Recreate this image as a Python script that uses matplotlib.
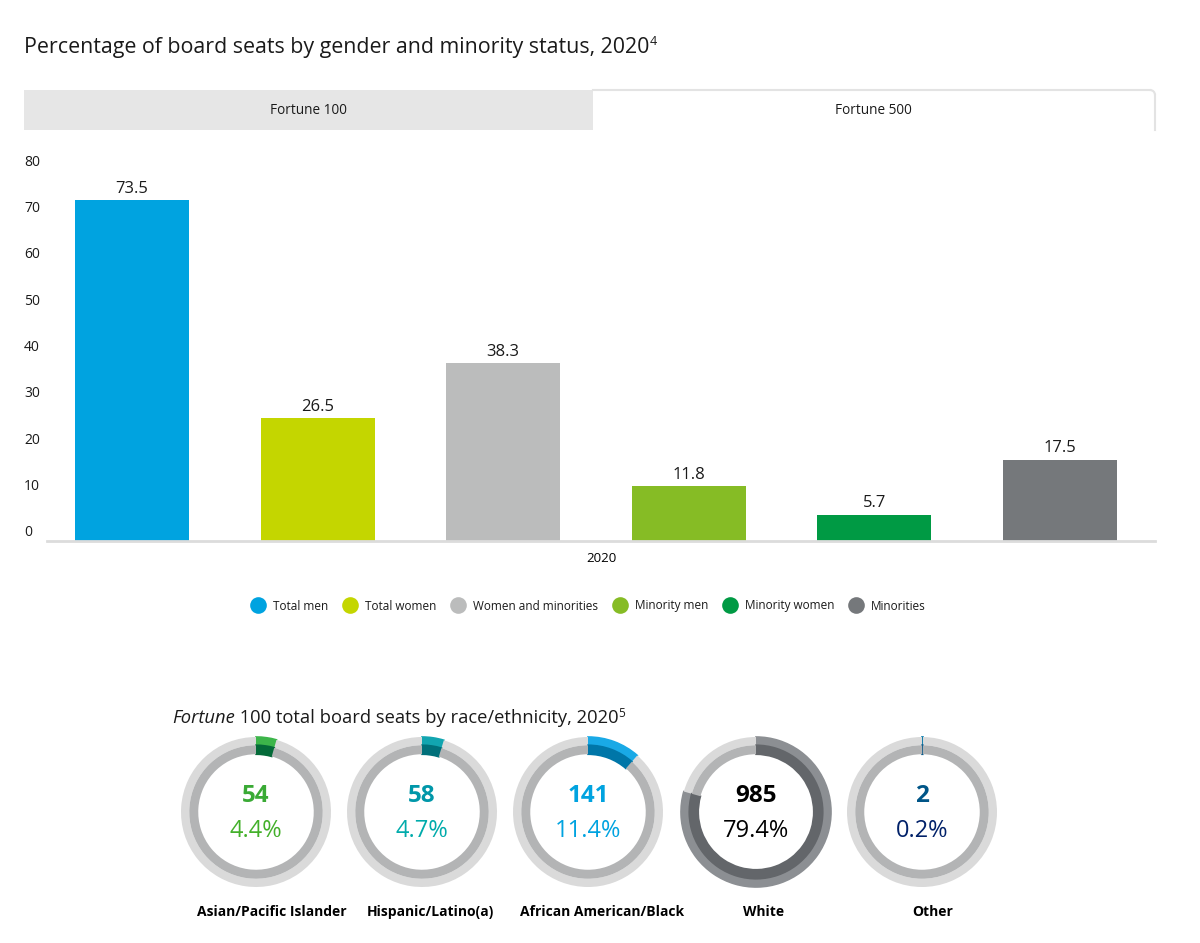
import matplotlib
matplotlib.use('Agg')
import matplotlib.pyplot as plt
from matplotlib.patches import Rectangle, Arc
from matplotlib.lines import Line2D
from matplotlib.transforms import ScaledTranslation

plt.rcParams['font.family'] = ['Open Sans', 'DejaVu Sans']
plt.rcParams['text.color'] = '#1a1a1a'

# bar chart data
categories = ['Total men', 'Total women', 'Women and minorities', 'Minority men', 'Minority women', 'Minorities']
values = [73.5, 26.5, 38.3, 11.8, 5.7, 17.5]
bar_colors = ['#00a3e0', '#c4d600', '#bbbcbc', '#86bc25', '#009a44', '#75787b']
yticks = [0, 10, 20, 30, 40, 50, 60, 70, 80]

# donut data
groups = ['Asian/Pacific Islander', 'Hispanic/Latino(a)', 'African American/Black', 'White', 'Other']
seats = [54, 58, 141, 985, 2]
shares = [4.4, 4.7, 11.4, 79.4, 0.2]
ring_outer = ['#3cb54a', '#12a5b0', '#19a9e6', '#8c8f93', '#0076a8']
ring_inner = ['#046a38', '#00707a', '#0076a8', '#63666a', '#005587']
num_colors = ['#3aaa35', '#0097a9', '#00a3e0', '#000000', '#005587']
pct_colors = ['#43b02a', '#00abab', '#00a3e0', '#000000', '#012169']

fig = plt.figure(figsize=(12, 9.43), dpi=100)

# background layer in pixel coordinates
bg = fig.add_axes([0, 0, 1, 1], zorder=-1)
bg.set_xlim(0, 1200)
bg.set_ylim(943, 0)
bg.axis('off')

t0 = bg.text(24, 47, 'Percentage of board seats by gender and minority status, 2020', fontsize=15.4,
             va='center', ha='left', color='#1a1a1a')
bg.annotate('4', xy=(1, 0.75), xycoords=t0, fontsize=9, va='center', ha='left')

# tabs
bg.add_patch(Rectangle((24, 90), 569, 40, facecolor='#e6e6e6', edgecolor='none'))
bg.text(308, 110, 'Fortune 100', fontsize=9.8, ha='center', va='center')
bg.add_line(Line2D([593, 1150], [90, 90], color='#e3e3e3', lw=1.5))
bg.add_line(Line2D([1155, 1155], [95, 130], color='#e3e3e3', lw=1.5))
bg.add_patch(Arc((1150, 95), 10, 10, theta1=270, theta2=360, color='#e3e3e3', lw=1.5))
bg.text(873, 110, 'Fortune 500', fontsize=9.8, ha='center', va='center')

# bar chart
ax = fig.add_axes([47 / 1200, 1 - 541 / 943, 1108 / 1200, 371 / 943])
x = range(len(values))
bars = ax.bar(x, values, width=0.615, color=bar_colors, label=categories)
for b, v in zip(bars, values):
    ax.annotate(f'{v}', xy=(b.get_x() + b.get_width() / 2, v), xytext=(0, 2.5),
                textcoords='offset points', ha='center', va='bottom', fontsize=12)
ax.set_xlim(-0.458, 5.512)
ax.set_ylim(0, 80)
ax.set_yticks(yticks)
ax.set_xticks([])
ax.set_xlabel('2020', fontsize=9.5, labelpad=8)
ax.tick_params(axis='y', length=0, pad=16.5, labelsize=10, labelcolor='#1a1a1a')
shift = ScaledTranslation(0, 10 / 72 * 0.72, fig.dpi_scale_trans)
for lab in ax.get_yticklabels():
    lab.set_ha('left')
    lab.set_transform(lab.get_transform() + shift)
for s in ['top', 'right', 'left']:
    ax.spines[s].set_visible(False)
ax.spines['bottom'].set_color('#dcdcdc')
ax.spines['bottom'].set_linewidth(2)

handles = [Line2D([], [], marker='o', linestyle='none', markersize=12, markerfacecolor=c,
                  markeredgecolor='none') for c in bar_colors]
fig.legend(handles, categories, loc='center', bbox_to_anchor=(586 / 1200, 1 - 606 / 943),
           ncol=6, frameon=False, fontsize=8.5, handletextpad=0.25, columnspacing=0.85)

# donut section
t1 = bg.text(172, 718, 'Fortune', fontsize=13.2, style='italic', va='center', ha='left')
t2 = bg.annotate(' 100 total board seats by race/ethnicity, 2020', xy=(1, 0.5), xycoords=t1,
                 fontsize=13.2, va='center', ha='left')
bg.annotate('5', xy=(1, 0.75), xycoords=t2, fontsize=8.5, va='center', ha='left')

centers = [256, 422, 588, 756, 922]
label_x = [272, 430, 602, 764, 933]
cy = 812
r = 75
for i, cx in enumerate(centers):
    dax = fig.add_axes([(cx - r) / 1200, 1 - (cy + r) / 943, 2 * r / 1200, 2 * r / 943])
    w1, _ = dax.pie([shares[i], 100 - shares[i]], colors=[ring_outer[i], '#dadada'], radius=1.0,
                    startangle=90, counterclock=False, wedgeprops=dict(width=0.11, edgecolor='none'))
    w2, _ = dax.pie([shares[i], 100 - shares[i]], colors=[ring_inner[i], '#b3b4b5'], radius=0.89,
                    startangle=90, counterclock=False, wedgeprops=dict(width=0.12, edgecolor='none'))
    w1[0].set_edgecolor(ring_outer[i])
    w1[0].set_linewidth(1.2)
    w2[0].set_edgecolor(ring_inner[i])
    w2[0].set_linewidth(1.2)
    dax.set_xlim(-1, 1)
    dax.set_ylim(-1, 1)
    dax.text(0, 0.22, f'{seats[i]}', ha='center', va='center', fontsize=17.5,
             fontweight='bold', color=num_colors[i])
    dax.text(0, -0.25, f'{shares[i]}%', ha='center', va='center', fontsize=17,
             color=pct_colors[i])
    bg.text(label_x[i], 912, groups[i], ha='center', va='center', fontsize=10,
            fontweight='bold', color='#000000')

fig.savefig('out.png', dpi=100, facecolor='white')
